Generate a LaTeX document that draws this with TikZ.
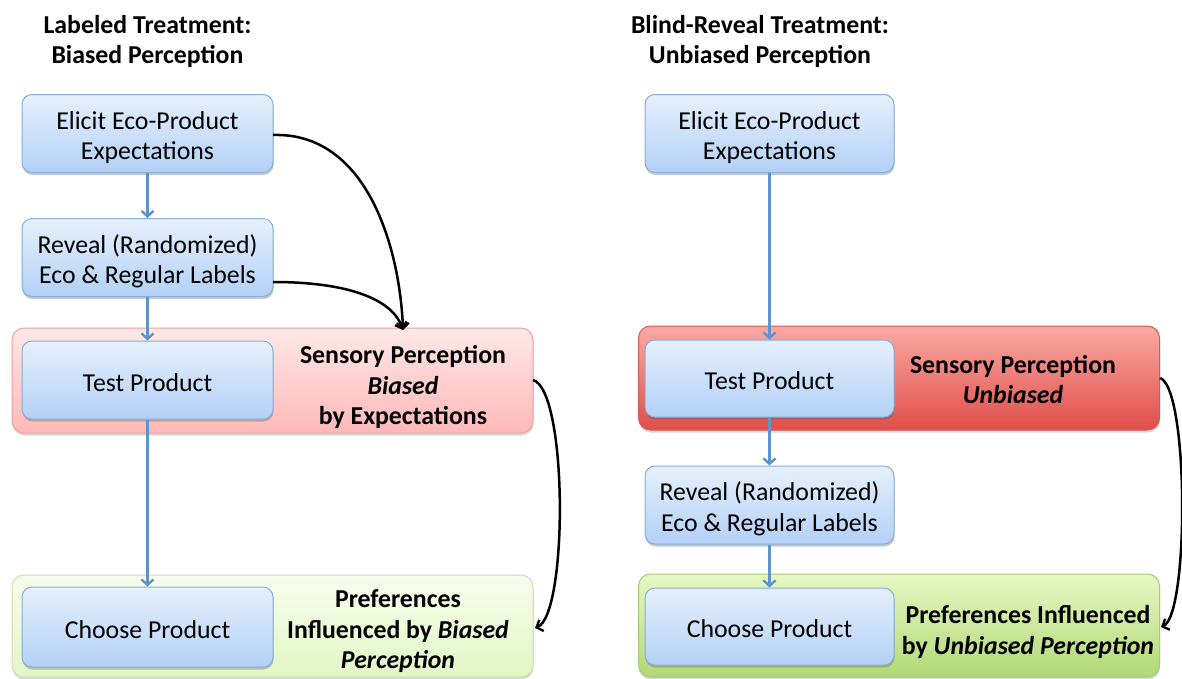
\documentclass[tikz,border=0pt]{standalone}
\usepackage{fontspec}
\setmainfont{Carlito}
\usetikzlibrary{shadows,arrows.meta}
\definecolor{bluetop}{HTML}{E6F0FC}
\definecolor{bluebot}{HTML}{B2D0F6}
\definecolor{blueline}{HTML}{86AEDF}
\definecolor{flowblue}{HTML}{5E93CB}
\definecolor{redAtop}{HTML}{FFE8E8}
\definecolor{redAbot}{HTML}{FFB8B8}
\definecolor{redAline}{HTML}{EBA3A3}
\definecolor{redBtop}{HTML}{FAA9A4}
\definecolor{redBbot}{HTML}{DF4E48}
\definecolor{redBline}{HTML}{D65A55}
\definecolor{greenAtop}{HTML}{F8FDEE}
\definecolor{greenAbot}{HTML}{E2F6C4}
\definecolor{greenAline}{HTML}{CCE3AC}
\definecolor{greenBtop}{HTML}{E6F8C4}
\definecolor{greenBbot}{HTML}{B1D876}
\definecolor{greenBline}{HTML}{A6CB78}
\newcommand{\mainsize}{\fontsize{25.8}{30.5}\selectfont}
\newcommand{\boxtext}[1]{\raisebox{-5pt}[\height][\depth]{\begin{tabular}{@{}c@{}}#1\end{tabular}}}
\tikzset{
  stepbox/.style={draw=blueline, line width=1pt, rounded corners=10pt,
    top color=bluetop, bottom color=bluebot, minimum width=251pt,
    minimum height=78pt, font=\mainsize, inner sep=0pt,
    drop shadow={shadow xshift=0.5pt, shadow yshift=-2.5pt, opacity=0.3, fill=black!70}},
  contbox/.style={line width=1pt, rounded corners=12pt, minimum width=521pt,
    minimum height=104pt, inner sep=0pt,
    drop shadow={shadow xshift=0.5pt, shadow yshift=-2.5pt, opacity=0.25, fill=black!60}},
  redA/.style={contbox, draw=redAline, top color=redAtop, bottom color=redAbot},
  redB/.style={contbox, draw=redBline, top color=redBtop, bottom color=redBbot},
  greenA/.style={contbox, draw=greenAline, top color=greenAtop, bottom color=greenAbot},
  greenB/.style={contbox, draw=greenBline, top color=greenBtop, bottom color=greenBbot},
  flow/.style={draw=flowblue, line width=2.6pt, -{Straight Barb[length=5.5pt,width=12pt,line width=2.4pt]}},
  infl/.style={draw=black, line width=2.5pt, -{Straight Barb[length=5.5pt,width=12pt,line width=2.3pt]}},
  note/.style={align=center, font=\mainsize\bfseries, inner sep=0pt},
  title/.style={align=center, font=\mainsize\bfseries, inner sep=0pt}
}
\begin{document}
\begin{tikzpicture}[x=1pt,y=-1pt]
\useasboundingbox[fill=white] (0,0) rectangle (1182,678);

% titles
\node[title] (tL) at (147.5,41.5) {Labeled Treatment:\\Biased Perception};
\node[title] (tR) at (760,41.5) {Blind-Reveal Treatment:\\Unbiased Perception};

% containers
\node[redA] (redL) at (272.5,380.5) [minimum height=105pt] {};
\node[greenA] (greenL) at (272.5,626) [minimum height=102pt] {};
\node[redB] (redR) at (899,378) {};
\node[greenB] (greenR) at (899,625.5) [minimum height=103pt] {};

% left column
\node[stepbox] (elL) at (147.5,133.5) {\boxtext{Elicit Eco-Product\\Expectations}};
\node[stepbox] (rvL) at (147.5,257.5) {\boxtext{Reveal (Randomized)\\Eco \& Regular Labels}};
\node[stepbox] (tpL) at (147.5,380) {\boxtext{Test Product}};
\node[stepbox] (cpL) at (147.5,627) [minimum height=80pt] {\boxtext{Choose Product}};

\node[note] (nRL) at (403,387) {Sensory Perception\\\textit{Biased}\\by Expectations};
\node[note] (nGL) at (398,631.5) {Preferences\\Influenced by \textit{Biased}\\\textit{Perception}};

% right column
\node[stepbox] (elR) at (769.5,133.5) [minimum width=249pt] {\boxtext{Elicit Eco-Product\\Expectations}};
\node[stepbox] (tpR) at (769.5,378.5) [minimum width=249pt, minimum height=77pt] {\boxtext{Test Product}};
\node[stepbox] (rvR) at (769.5,505) [minimum width=249pt] {\boxtext{Reveal (Randomized)\\Eco \& Regular Labels}};
\node[stepbox] (cpR) at (769.5,626.5) [minimum width=249pt, minimum height=77pt] {\boxtext{Choose Product}};

\node[note] (nRR) at (1013,379.5) {Sensory Perception\\\textit{Unbiased}};
\node[note] (nGR) at (1028,632) {Preferences Influenced\\by \textit{Unbiased Perception}};

% blue flow arrows
\draw[flow] (elL.south) -- (rvL.north);
\draw[flow] (rvL.south) -- (tpL.north);
\draw[flow] (tpL.south) -- (cpL.north);
\draw[flow] (elR.south) -- (tpR.north);
\draw[flow] (tpR.south) -- (rvR.north);
\draw[flow] (rvR.south) -- (cpR.north);

% black influence arrows
\coordinate (hitL) at (403,330);
\coordinate (eS) at (273,135);
\coordinate (rS) at (273,282);
\draw[infl] (eS) .. controls (368,132) and (400,250) .. (hitL);
\draw[infl] (rS) .. controls (350,282) and (393,300) .. (hitL);

\coordinate (rLs) at (533,380);
\coordinate (gLe) at (535,628);
\draw[infl] (rLs) .. controls (568,390) and (568,615) .. (gLe);

\coordinate (rRs) at (1160,378);
\coordinate (gRe) at (1161,627);
\draw[infl] (rRs) .. controls (1189,388) and (1189,615) .. (gRe);
\end{tikzpicture}
\end{document}
